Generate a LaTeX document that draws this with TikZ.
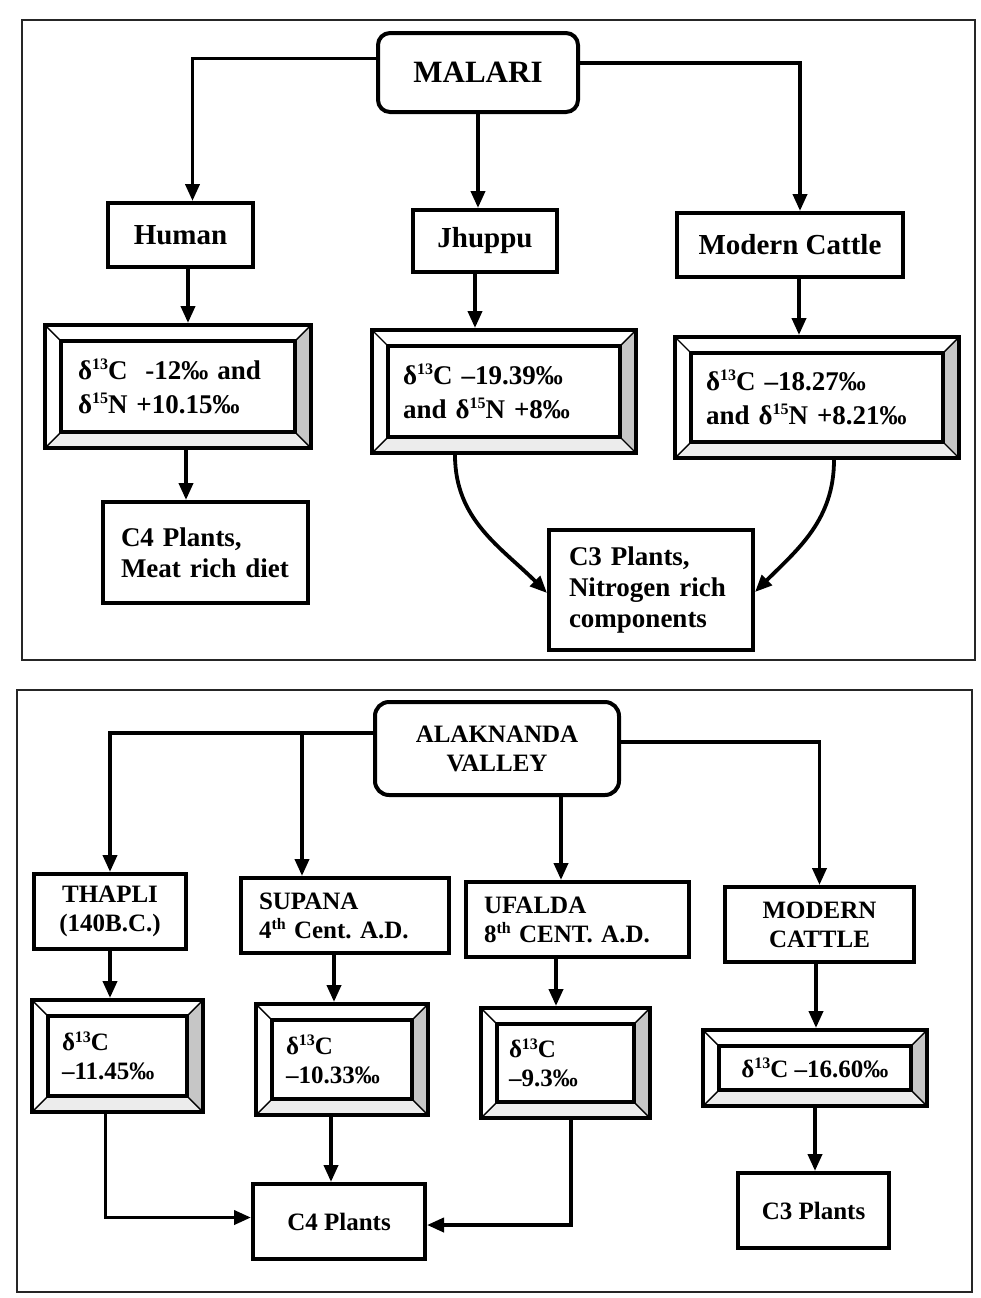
\documentclass[tikz,border=0pt]{standalone}
\usepackage{fontspec}
\setmainfont{Liberation Serif}
\usetikzlibrary{arrows.meta, positioning, calc}

\newcommand{\headfont}{\fontsize{14.5}{17}\selectfont\bfseries\frenchspacing}
\newcommand{\topfont}{\fontsize{13.5}{17}\selectfont\bfseries\frenchspacing}
\newcommand{\notefont}{\fontsize{13.5}{15.5}\selectfont\bfseries\frenchspacing}
\newcommand{\lowfont}{\fontsize{12.5}{14.5}\selectfont\bfseries\frenchspacing}
\newcommand{\sups}[1]{\raisebox{0.75ex}{\fontsize{8}{8}\selectfont #1}}
\newcommand{\dcarb}{δ\sups{13}C}
\newcommand{\dnitro}{δ\sups{15}N}

\tikzset{
  plainbox/.style={draw, line width=2pt, inner sep=0pt, fill=white},
  rootbox/.style={plainbox, rounded corners=6pt, align=center},
  arr/.style={line width=1.9pt, -{Triangle[length=8.5pt,width=7pt]}},
  panel/.style={line width=0.9pt, draw=black!85},
  bevelbox/.style={plainbox,
    path picture={
      \coordinate (onw) at (path picture bounding box.north west);
      \coordinate (one) at (path picture bounding box.north east);
      \coordinate (osw) at (path picture bounding box.south west);
      \coordinate (ose) at (path picture bounding box.south east);
      \coordinate (inw) at ($(onw)+(8pt,-8pt)$);
      \coordinate (ine) at ($(one)+(-8pt,-8pt)$);
      \coordinate (isw) at ($(osw)+(8pt,8pt)$);
      \coordinate (ise) at ($(ose)+(-8pt,8pt)$);
      \fill[gray!45] (one) -- (ose) -- (ise) -- (ine) -- cycle;
      \fill[gray!15] (osw) -- (ose) -- (ise) -- (isw) -- cycle;
      \draw[line width=0.7pt] (onw) -- (inw) (one) -- (ine) (osw) -- (isw) (ose) -- (ise);
      \draw[line width=1.6pt] (inw) rectangle (ise);
    }}
}

\begin{document}
\begin{tikzpicture}[x=0.5pt, y=-0.5pt]
\useasboundingbox (0,0) rectangle (981,1298);

% ---- upper panel: Malari
\draw[panel] (22,20) rectangle (975,660);
\node[rootbox, font=\fontsize{15.5}{18}\selectfont\bfseries, minimum width=100pt, minimum height=39.5pt] (malari) at (478,72.5) {MALARI};

\node[plainbox, font=\headfont, minimum width=72.5pt, minimum height=32pt] (human) at (180.5,235) {Human};
\node[plainbox, font=\headfont, minimum width=72pt, minimum height=31pt] (jhuppu) at (485,241) {Jhuppu};
\node[plainbox, font=\headfont, minimum width=113pt, minimum height=32pt] (cattle) at (790,245) {Modern Cattle};

\node[bevelbox, font=\topfont, align=left, text width=100pt, inner xsep=16.5pt, minimum height=61.5pt] (humiso) at (178,386.5) {\dcarb\ \ -12‰ and\\ \dnitro\ +10.15‰};
\node[bevelbox, font=\topfont, align=left, text width=101pt, inner xsep=15.5pt, minimum height=61.5pt] (jhuiso) at (504,391.5) {\dcarb\ –19.39‰\\ and \dnitro\ +8‰};
\node[bevelbox, font=\topfont, align=left, text width=111pt, inner xsep=15.5pt, minimum height=60.5pt] (catiso) at (817,397.5) {\dcarb\ –18.27‰\\ and \dnitro\ +8.21‰};

\node[plainbox, font=\notefont, align=left, text width=84.5pt, inner xsep=9pt, minimum height=50.5pt] (humdiet) at (205.5,552.5) {C4 Plants,\\ Meat rich diet};
\node[plainbox, font=\notefont, align=left, text width=82pt, inner xsep=10pt, minimum height=60pt] (cthree) at (651,590) {C3 Plants,\\ Nitrogen rich\\ components};

% branches from Malari
\draw[arr] ([yshift=7pt]malari.west) -| ([xshift=6pt]human.north);
\draw[arr] (malari.south) -- (malari.south |- jhuppu.north);
\draw[arr] ([yshift=4.75pt]malari.east) -| ([xshift=5pt]cattle.north);

% straight drops
\foreach \a/\b/\dx in {human/humiso/3.75pt, jhuppu/jhuiso/-5pt, cattle/catiso/4.5pt, humiso/humdiet/4pt} {
  \coordinate (drop) at ([xshift=\dx]\a.south);
  \draw[arr] (drop) -- (drop |- \b.north);
}
\draw[arr] ([xshift=-24.5pt]jhuiso.south) to[out=-90, in=135] ([yshift=-1.5pt]cthree.west);
\draw[arr] ([xshift=8.5pt]catiso.south) to[out=-90, in=45] ([yshift=-1pt]cthree.east);

% ---- lower panel: Alaknanda valley
\draw[panel] (17,690) rectangle (972,1292);
\node[rootbox, font=\lowfont, rounded corners=7pt, minimum width=122pt, minimum height=46.5pt] (alak) at (497,748.5) {ALAKNANDA\\ VALLEY};

\node[plainbox, font=\lowfont, align=center, minimum width=76pt, minimum height=37.5pt] (thapli) at (110,911.5) {THAPLI\\ (140B.C.)};
\node[plainbox, font=\lowfont, align=left, text width=86pt, inner xsep=9pt, minimum height=37.5pt] (supana) at (345,915.5) {SUPANA\\ 4\sups{th} Cent. A.D.};
\node[plainbox, font=\lowfont, align=left, text width=93.5pt, inner xsep=9pt, minimum height=37.5pt] (ufalda) at (577.5,919.5) {UFALDA\\ 8\sups{th} CENT. A.D.};
\node[plainbox, font=\lowfont, align=center, minimum width=94.5pt, minimum height=37.5pt] (modcat) at (819.5,924.5) {MODERN\\ CATTLE};

\node[bevelbox, font=\lowfont, align=left, text width=55.5pt, inner xsep=15pt, minimum height=56pt] (thaiso) at (117.5,1056) {\dcarb\\ –11.45‰};
\node[bevelbox, font=\lowfont, align=left, text width=56pt, inner xsep=15pt, minimum height=55.5pt] (supiso) at (342,1059.5) {\dcarb\\ –10.33‰};
\node[bevelbox, font=\lowfont, align=left, text width=56.5pt, inner xsep=14pt, minimum height=55pt] (ufaiso) at (565.5,1063) {\dcarb\\ –9.3‰};
\node[bevelbox, font=\lowfont, align=center, minimum width=112pt, minimum height=38pt] (modiso) at (815,1068) {\dcarb\ –16.60‰};

\node[plainbox, font=\lowfont, minimum width=86pt, minimum height=37.5pt] (cfour) at (339,1221.5) {C4 Plants};
\node[plainbox, font=\lowfont, minimum width=75.5pt, minimum height=37.5pt] (cthreeb) at (813.5,1210.5) {C3 Plants};

% branches from the valley
\coordinate (aw) at ([yshift=7.75pt]alak.west);
\draw[arr] (aw) -| (thapli.north);
\coordinate (sn) at ([xshift=-21.5pt]supana.north);
\draw[arr] (sn |- aw) -- (sn);
\coordinate (as) at ([xshift=32pt]alak.south);
\draw[arr] (as) -- (as |- ufalda.north);
\draw[arr] ([yshift=3.25pt]alak.east) -| (modcat.north);

\foreach \a/\b/\dx in {thapli/thaiso/0pt, supana/supiso/-5.5pt, ufalda/ufaiso/-10.75pt, modcat/modiso/-1.75pt, supiso/cfour/-5.5pt, modiso/cthreeb/0pt} {
  \coordinate (drop) at ([xshift=\dx]\a.south);
  \draw[arr] (drop) -- (drop |- \b.north);
}
\draw[arr] ([xshift=-6pt]thaiso.south) |- ([yshift=2pt]cfour.west);
\draw[arr] ([xshift=2.75pt]ufaiso.south) |- ([yshift=-1.75pt]cfour.east);
\end{tikzpicture}
\end{document}
